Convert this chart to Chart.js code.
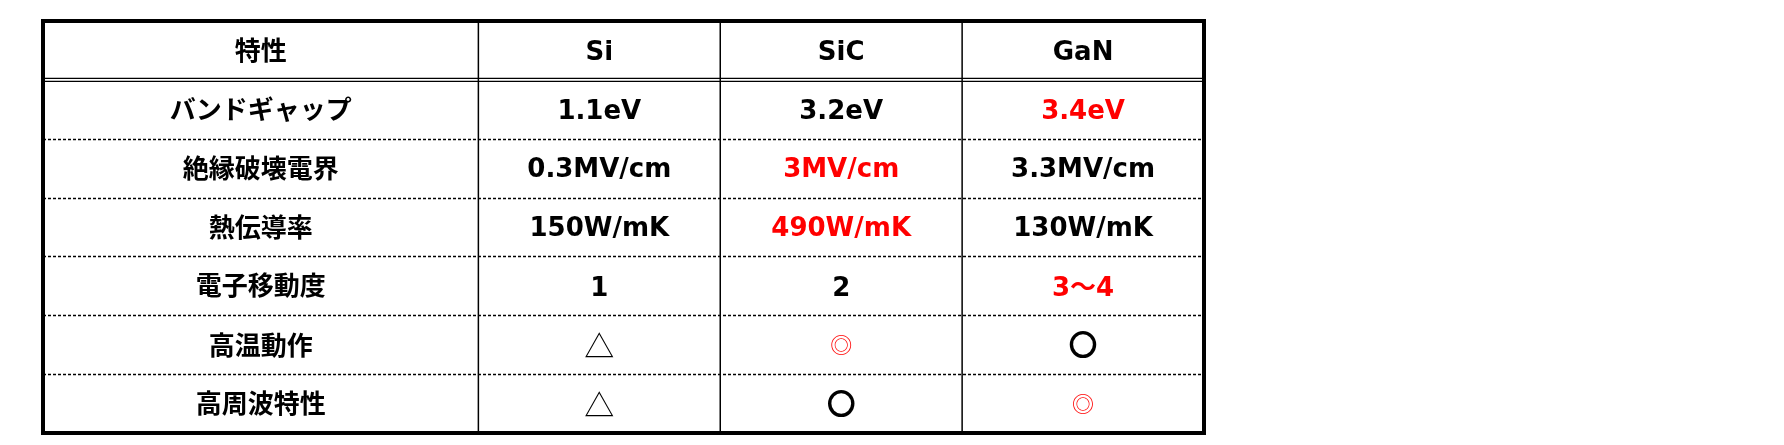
<!DOCTYPE html>
<html><head><meta charset="utf-8">
<script src="https://cdn.jsdelivr.net/npm/chart.js@4"></script>
<style>html,body{margin:0;padding:0;background:#fff}#c{display:block}</style>
</head><body>
<div style="width:1784px;height:445px"><canvas id="c"></canvas></div>
<script>
const columns = ["特性", "Si", "SiC", "GaN"];
const properties = ["バンドギャップ", "絶縁破壊電界", "熱伝導率", "電子移動度", "高温動作", "高周波特性"];
const siValues  = ["1.1eV", "0.3MV/cm", "150W/mK", "1", "△", "△"];
const sicValues = ["3.2eV", "3MV/cm", "490W/mK", "2", "◎", "○"];
const ganValues = ["3.4eV", "3.3MV/cm", "130W/mK", "3～4", "○", "◎"];
const siBest  = [false, false, false, false, false, false];
const sicBest = [false, true, true, false, true, false];
const ganBest = [true, false, false, true, false, true];

const firstColWeight = 1.8;
const colStart = [0, firstColWeight, firstColWeight + 1, firstColWeight + 2, firstColWeight + 3];
const nRows = properties.length + 1;

const tablePlugin = {
  id: 'table',
  afterDraw(chart) {
    const ctx = chart.ctx, xs = chart.scales.x, ys = chart.scales.y;
    const X = v => xs.getPixelForValue(v), Y = v => ys.getPixelForValue(v);
    const L = X(0), R = X(colStart[4]), T = Y(0), B = Y(nRows);
    ctx.save();
    ctx.strokeStyle = '#000';
    ctx.lineWidth = 1.3;
    ctx.setLineDash([3, 2]);
    for (let r = 2; r < nRows; r++) {
      const y = Math.round(Y(r)) + 0.5;
      ctx.beginPath(); ctx.moveTo(L, y); ctx.lineTo(R, y); ctx.stroke();
    }
    ctx.setLineDash([]);
    const hy = Y(1);
    ctx.lineWidth = 1.2;
    [hy - 1.5, hy + 1.5].forEach(y => { ctx.beginPath(); ctx.moveTo(L, y); ctx.lineTo(R, y); ctx.stroke(); });
    ctx.lineWidth = 1.5;
    for (let c = 1; c < 4; c++) {
      const x = X(colStart[c]);
      ctx.beginPath(); ctx.moveTo(x, T); ctx.lineTo(x, B); ctx.stroke();
    }
    ctx.lineWidth = 4;
    ctx.strokeRect(L, T, R - L, B - T);
    ctx.textAlign = 'center'; ctx.textBaseline = 'alphabetic';
    const cx = c => (X(colStart[c]) + X(colStart[c + 1])) / 2;
    const cy = r => (Y(r) + Y(r + 1)) / 2;
    const jp = 'bold 26px "Noto Sans CJK JP"';
    const lat = 'bold 26px "DejaVu Sans", "Noto Sans CJK JP"';
    function cell(text, c, r, red) {
      const col = red ? '#ff0000' : '#000';
      ctx.fillStyle = col; ctx.strokeStyle = col;
      let f = /[A-Za-z0-9]/.test(text) ? lat : jp;
      let stroke = 0;
      if (text === '△') f = '30px "Noto Sans CJK JP"';
      if (text === '○') { f = 'bold 27px "Noto Sans CJK JP"'; stroke = 2.2; }
      if (text === '◎') f = '22px "Noto Sans CJK JP"';
      ctx.font = f;
      const m = ctx.measureText(text);
      const y = cy(r) + (m.actualBoundingBoxAscent - m.actualBoundingBoxDescent) / 2;
      ctx.fillText(text, cx(c), y);
      if (stroke) { ctx.lineWidth = stroke; ctx.strokeText(text, cx(c), y); }
    }
    columns.forEach((t, c) => cell(t, c, 0, false));
    properties.forEach((t, r) => cell(t, 0, r + 1, false));
    siValues.forEach((t, r) => cell(t, 1, r + 1, siBest[r]));
    sicValues.forEach((t, r) => cell(t, 2, r + 1, sicBest[r]));
    ganValues.forEach((t, r) => cell(t, 3, r + 1, ganBest[r]));
    ctx.restore();
  }
};

new Chart(document.getElementById('c'), {
  type: 'scatter',
  data: { datasets: [{ data: [] }] },
  options: {
    responsive: true, maintainAspectRatio: false, animation: false,
    layout: { padding: { left: 43, top: 21, right: 580, bottom: 12 } },
    plugins: { legend: { display: false }, tooltip: { enabled: false } },
    scales: {
      x: { type: 'linear', min: 0, max: colStart[4], display: false },
      y: { type: 'linear', min: 0, max: nRows, reverse: true, display: false }
    }
  },
  plugins: [tablePlugin]
});
</script>
</body></html>
